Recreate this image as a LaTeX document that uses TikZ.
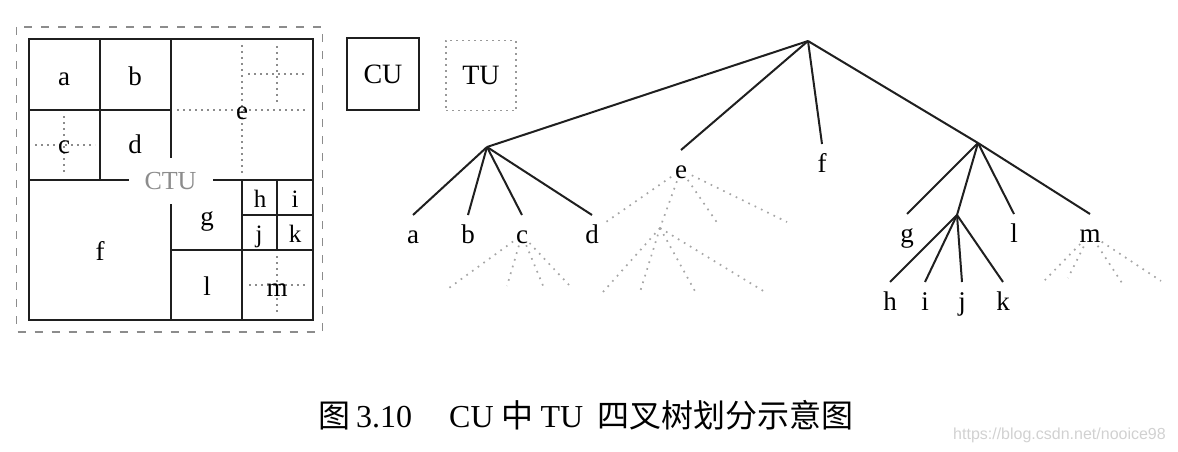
\documentclass[tikz,border=0pt]{standalone}
\usepackage{fontspec}
\setmainfont{Liberation Serif}
\newfontfamily\cjk{Noto Sans CJK SC}
\newfontfamily\wmfont{Liberation Sans}
\begin{document}
\begin{tikzpicture}[x=1pt,y=-1pt,
  ctuline/.style={line width=2.6pt, draw=black!88},
  tudots/.style={draw=black!45, line width=1.7pt, dash pattern=on 1.7pt off 4.3pt},
  outerdash/.style={draw=black!45, line width=1.4pt, dash pattern=on 8pt off 9pt},
  treeline/.style={line width=2pt, draw=black!88},
  treedot/.style={draw=black!35, line width=1.7pt, dash pattern=on 1.7pt off 5.3pt},
  lbl/.style={font=\fontsize{27}{27}\selectfont, inner sep=0pt},
  leaf/.style={lbl, anchor=base, text height=18pt, text depth=6pt, outer xsep=0pt, outer ysep=10pt},
  cell/.style={lbl, anchor=base}
]
\useasboundingbox (0,0) rectangle (1178,452);

% ---------- CTU partition ----------
\draw[outerdash] (16.5,27) rectangle (322.5,332);
\draw[ctuline] (29,39) rectangle (313,320);
\draw[ctuline] (100,39) -- (100,180);
\draw[ctuline] (29,110) -- (171,110);
\draw[ctuline] (171,39) -- (171,320);
\draw[ctuline] (29,180) -- (313,180);
\draw[ctuline] (242,180) -- (242,320);
\draw[ctuline] (171,250) -- (313,250);
\draw[ctuline] (277,180) -- (277,250);
\draw[ctuline] (242,215) -- (313,215);
% TU splits
\draw[tudots] (64,116) -- (64,174);
\draw[tudots] (35,145) -- (95,145);
\draw[tudots] (242,45) -- (242,174);
\draw[tudots] (177,110) -- (308,110);
\draw[tudots] (277,46) -- (277,104);
\draw[tudots] (248,74) -- (307,74);
\draw[tudots] (277,256) -- (277,314);
\draw[tudots] (249,285) -- (307,285);

\node[fill=white, minimum width=84pt, minimum height=46pt, inner sep=0pt,
      text=black!45, font=\fontsize{26}{26}\selectfont] (ctu) at (170.5,181) {CTU};

\node[cell] (ca) at (64,85) {a};
\node[cell] (cb) at (135,85) {b};
\node[cell] (cc) at (64,153) {c};
\node[cell] (cd) at (135,153) {d};
\node[cell] (ce) at (242,119) {e};
\node[cell] (cf) at (100,260) {f};
\node[cell] (cg) at (207,225) {g};
\node[cell, font=\fontsize{25}{25}\selectfont] (ch) at (260,207) {h};
\node[cell, font=\fontsize{25}{25}\selectfont] (ci) at (295,207) {i};
\node[cell, font=\fontsize{25}{25}\selectfont] (cj) at (259,242) {j};
\node[cell, font=\fontsize{25}{25}\selectfont] (ck) at (295,242) {k};
\node[cell] (cl) at (207,295) {l};
\node[cell] (cm) at (277,296) {m};

% ---------- legend ----------
\node[draw=black!88, line width=2pt, minimum size=72pt, inner sep=0pt,
      font=\fontsize{28}{28}\selectfont] (cu) at (383,74) {CU};
\node[draw=black!40, line width=1.7pt, dash pattern=on 1.7pt off 4.3pt,
      minimum size=70pt, inner sep=0pt, font=\fontsize{28}{28}\selectfont] (tu) at (481,75.5) {TU};

% ---------- tree ----------
\coordinate (root) at (808,41);
\coordinate (n1) at (487,147);
\coordinate (n4) at (978,143);
\coordinate (n41) at (957,215);

\node[leaf] (a) at (413,243) {a};
\node[leaf] (b) at (468,243) {b};
\node[leaf] (c) at (522,243) {c};
\node[leaf] (d) at (592,243) {d};
\node[leaf] (e) at (681,178) {e};
\node[leaf] (f) at (822,172) {f};
\node[leaf] (g) at (907,242) {g};
\node[leaf] (l) at (1014,242) {l};
\node[leaf] (m) at (1090,242) {m};
\node[leaf] (h) at (890,310) {h};
\node[leaf] (i) at (925,310) {i};
\node[leaf] (j) at (962,310) {j};
\node[leaf] (k) at (1003,310) {k};

\draw[treeline] (root) -- (n1);
\draw[treeline] (root) -- (e.north);
\draw[treeline] (root) -- (f.north);
\draw[treeline] (root) -- (n4);
\draw[treeline] (n1) -- (a.north);
\draw[treeline] (n1) -- (b.north);
\draw[treeline] (n1) -- (c.north);
\draw[treeline] (n1) -- (d.north);
\draw[treeline] (n4) -- (g.north);
\draw[treeline] (n4) -- (n41);
\draw[treeline] (n4) -- (l.north);
\draw[treeline] (n4) -- (m.north);
\draw[treeline] (n41) -- (h.north);
\draw[treeline] (n41) -- (i.north);
\draw[treeline] (n41) -- (j.north);
\draw[treeline] (n41) -- (k.north);

% TU sub-trees (dotted)
\coordinate (c1) at (449,288);
\coordinate (c2) at (507,286);
\coordinate (c3) at (544,288);
\coordinate (c4) at (569,285);
\coordinate (e1) at (606,222);
\coordinate (e2) at (660,228);
\coordinate (e3) at (718,224);
\coordinate (e4) at (787,222);
\coordinate (e21) at (603,292);
\coordinate (e22) at (640,292);
\coordinate (e23) at (696,293);
\coordinate (e24) at (765,292);
\coordinate (m1) at (1043,282);
\coordinate (m2) at (1068,278);
\coordinate (m3) at (1122,283);
\coordinate (m4) at (1161,281);

\foreach \t in {c1,c2,c3,c4}
  \draw[treedot, shorten <=11pt] ([yshift=8pt]c.base) -- (\t);
\foreach \t in {e1,e2,e3,e4}
  \draw[treedot, shorten <=12pt] ([yshift=8pt]e.base) -- (\t);
\foreach \t in {e21,e22,e23,e24}
  \draw[treedot] (e2) -- (\t);
\foreach \t in {m1,m2,m3,m4}
  \draw[treedot, shorten <=14pt] ([yshift=8pt]m.base) -- (\t);

% ---------- caption ----------
\node[anchor=base west, inner sep=0pt, font=\fontsize{32}{32}\selectfont] (cap) at (318,427)
  {{\cjk\fontsize{32}{32}\selectfont 图}\hspace{6pt}3.10\hspace{37pt}CU\hspace{8pt}{\cjk\fontsize{32}{32}\selectfont 中}\hspace{7pt}TU\hspace{14pt}{\cjk\fontsize{32}{32}\selectfont 四叉树划分示意图}};
\node[anchor=base west, inner sep=0pt, text=black!18, font=\wmfont\fontsize{16}{16}\selectfont] (wm) at (953,439)
  {https://blog.csdn.net/nooice98};
\end{tikzpicture}
\end{document}
